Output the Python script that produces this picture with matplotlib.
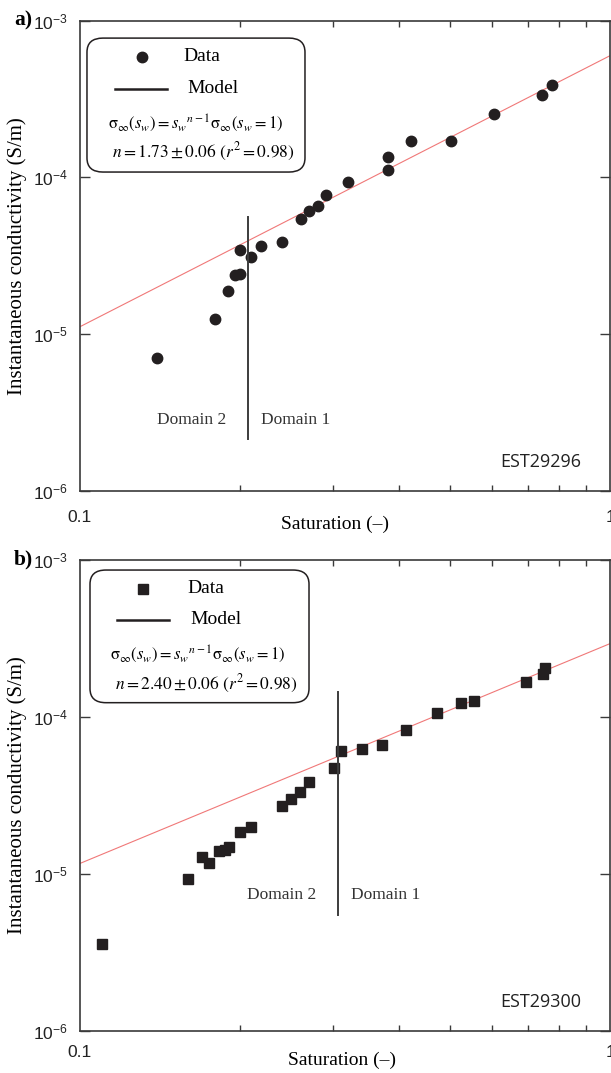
"""
Instantaneous conductivity vs. water saturation for two samples,
with the power-law model line and the domain 1 / domain 2 limit.
"""

import matplotlib
matplotlib.use("Agg")
import matplotlib.pyplot as plt
from matplotlib.patches import FancyBboxPatch
from matplotlib.ticker import FixedLocator, NullFormatter, FixedFormatter

plt.rcParams['mathtext.fontset'] = 'stix'
plt.rcParams['font.family'] = ['Liberation Serif', 'DejaVu Serif']

# sample EST29296 (panel a)
sat_a = [0.140, 0.180, 0.190, 0.196, 0.200, 0.200, 0.210, 0.220, 0.240, 0.261,
         0.271, 0.281, 0.291, 0.321, 0.381, 0.381, 0.422, 0.502, 0.603, 0.745, 0.776]
cond_a = [7.0e-6, 1.25e-5, 1.88e-5, 2.38e-5, 2.42e-5, 3.46e-5, 3.08e-5, 3.62e-5,
          3.84e-5, 5.40e-5, 6.14e-5, 6.56e-5, 7.76e-5, 9.29e-5, 1.12e-4, 1.35e-4,
          1.71e-4, 1.71e-4, 2.53e-4, 3.34e-4, 3.89e-4]
sigma_sat_a = 5.98e-4     # model value at sw = 1
slope_a = 1.73
n_text_a = r'$n = 1.73 \pm 0.06\ (r^2 = 0.98)$'
limit_a = 0.2075          # domain boundary saturation
limit_span_a = [2.13e-6, 5.58e-5]
domain_y_a = 2.83e-6

# sample EST29300 (panel b)
sat_b = [0.110, 0.160, 0.170, 0.175, 0.183, 0.188, 0.191, 0.200, 0.210, 0.240,
         0.250, 0.260, 0.271, 0.301, 0.311, 0.341, 0.371, 0.412, 0.472, 0.523,
         0.553, 0.694, 0.746, 0.755]
cond_b = [3.55e-6, 9.25e-6, 1.28e-5, 1.17e-5, 1.39e-5, 1.42e-5, 1.47e-5, 1.85e-5,
          1.99e-5, 2.71e-5, 2.99e-5, 3.31e-5, 3.82e-5, 4.69e-5, 6.01e-5, 6.23e-5,
          6.63e-5, 8.23e-5, 1.06e-4, 1.23e-4, 1.26e-4, 1.66e-4, 1.86e-4, 2.03e-4]
sigma_sat_b = 2.92e-4
slope_b = 1.40
n_text_b = r'$n = 2.40 \pm 0.06\ (r^2 = 0.98)$'
limit_b = 0.307
limit_span_b = [5.48e-6, 1.43e-4]
domain_y_b = 7.28e-6

s_model = [0.1, 1.0]
formula = r'$\mathrm{\sigma}_{\infty}(s_w) = s_w{}^{n-1}\mathrm{\sigma}_{\infty}(s_w = 1)$'
y_ticks = [1e-6, 1e-5, 1e-4, 1e-3]
y_labels = [r'$\mathregular{10^{-6}}$', r'$\mathregular{10^{-5}}$',
            r'$\mathregular{10^{-4}}$', r'$\mathregular{10^{-3}}$']
x_minor = [0.2, 0.3, 0.4, 0.5, 0.6, 0.7, 0.8, 0.9]

INK = '#231f20'
SPINE = '#3a3a3a'


def panel(ax, sat, cond, marker, msize, sig1, slope, n_text, limit, span, dom_y,
          name, tag, box, leg, xlab_pos, xpad):
    ax.set_xscale('log')
    ax.set_yscale('log')
    ax.set_xlim(0.1, 1)
    ax.set_ylim(1e-6, 1e-3)

    ax.plot(s_model, [sig1 * s ** slope for s in s_model], color='#f07878', lw=0.8)
    ax.plot(sat, cond, marker, color=INK, ms=msize, ls='none', mec=INK)
    ax.plot([limit, limit], span, color='#3c3c3c', lw=1.4)
    ax.annotate('Domain 2', (limit, dom_y), xytext=(-15.5, 0), textcoords='offset points',
                ha='right', va='center', fontsize=12.5, color='#333333')
    ax.annotate('Domain 1', (limit, dom_y), xytext=(9.5, 0), textcoords='offset points',
                ha='left', va='center', fontsize=12.5, color='#333333')

    ax.text(0.945, 0.062, name, transform=ax.transAxes, ha='right', va='center',
            fontsize=13, family='Open Sans', color='#222222')

    # legend box drawn by hand
    x0, y0, x1, y1 = box
    ax.add_patch(FancyBboxPatch((x0, y0), x1 - x0, y1 - y0, transform=ax.transAxes,
                                boxstyle='round,pad=0,rounding_size=0.03',
                                fc='white', ec=INK, lw=1.1, zorder=5))
    mx, my, lx0, lx1, ly, tx, fx, fy, nx, ny = leg
    ax.plot([mx], [my], marker, color=INK, ms=msize, transform=ax.transAxes, zorder=6)
    ax.text(tx, my, 'Data', transform=ax.transAxes, va='center', fontsize=14, zorder=6)
    ax.plot([lx0, lx1], [ly, ly], color=INK, lw=1.8, transform=ax.transAxes, zorder=6)
    ax.text(tx + 0.006, ly, 'Model', transform=ax.transAxes, va='center', fontsize=14, zorder=6)
    ax.text(fx, fy, formula, transform=ax.transAxes, ha='center', va='center',
            fontsize=12, zorder=6)
    ax.text(nx, ny, n_text, transform=ax.transAxes, ha='center', va='center',
            fontsize=12.5, zorder=6)

    # axes cosmetics
    for sp in ax.spines.values():
        sp.set_color(SPINE)
        sp.set_linewidth(1.2)
    ax.xaxis.set_major_locator(FixedLocator([0.1, 1]))
    ax.xaxis.set_major_formatter(FixedFormatter(['0.1', '1']))
    ax.xaxis.set_minor_locator(FixedLocator(x_minor))
    ax.xaxis.set_minor_formatter(NullFormatter())
    ax.yaxis.set_major_locator(FixedLocator(y_ticks))
    ax.yaxis.set_major_formatter(FixedFormatter(y_labels))
    ax.yaxis.set_minor_locator(FixedLocator([]))
    ax.tick_params(which='both', direction='in', top=True, right=True,
                   color=SPINE, width=1.0, labelsize=12.5, labelcolor='#222222')
    ax.tick_params(axis='x', which='major', length=0, pad=xpad)
    ax.tick_params(axis='x', which='minor', length=4.5)
    ax.tick_params(axis='y', which='major', length=7, pad=8.5)
    for lab in ax.get_xticklabels() + ax.get_yticklabels():
        lab.set_family('Liberation Sans')

    ax.set_xlabel('Saturation (\u2013)', fontsize=14)
    ax.xaxis.set_label_coords(xlab_pos[0], xlab_pos[1])
    ax.set_ylabel('Instantaneous conductivity (S/m)', fontsize=15)
    ax.yaxis.set_label_coords(-0.1, 0.5)

    ax.text(-0.089, 1.0, tag, transform=ax.transAxes, ha='right', va='center',
            fontsize=15.5, fontweight='bold')


fig = plt.figure(figsize=(6.11, 10.73), dpi=100)
ax1 = fig.add_axes([0.1309, 0.5427, 0.8675, 0.4380])
ax2 = fig.add_axes([0.1309, 0.0394, 0.8675, 0.4390])

panel(ax1, sat_a, cond_a, 'o', 7.5, sigma_sat_a, slope_a, n_text_a, limit_a,
      limit_span_a, domain_y_a, 'EST29296', 'a)',
      (0.0132, 0.678, 0.4245, 0.963),
      (0.117, 0.9228, 0.066, 0.164, 0.8547, 0.196, 0.219, 0.7823, 0.233, 0.7206),
      (0.481, -0.054), 14)
panel(ax2, sat_b, cond_b, 's', 6.5, sigma_sat_b, slope_b, n_text_b, limit_b,
      limit_span_b, domain_y_b, 'EST29300', 'b)',
      (0.0189, 0.6964, 0.4321, 0.978),
      (0.1189, 0.9378, 0.0698, 0.168, 0.872, 0.2019, 0.222, 0.80, 0.2377, 0.736),
      (0.495, -0.045), 10)

fig.savefig('out.png', dpi=100)
